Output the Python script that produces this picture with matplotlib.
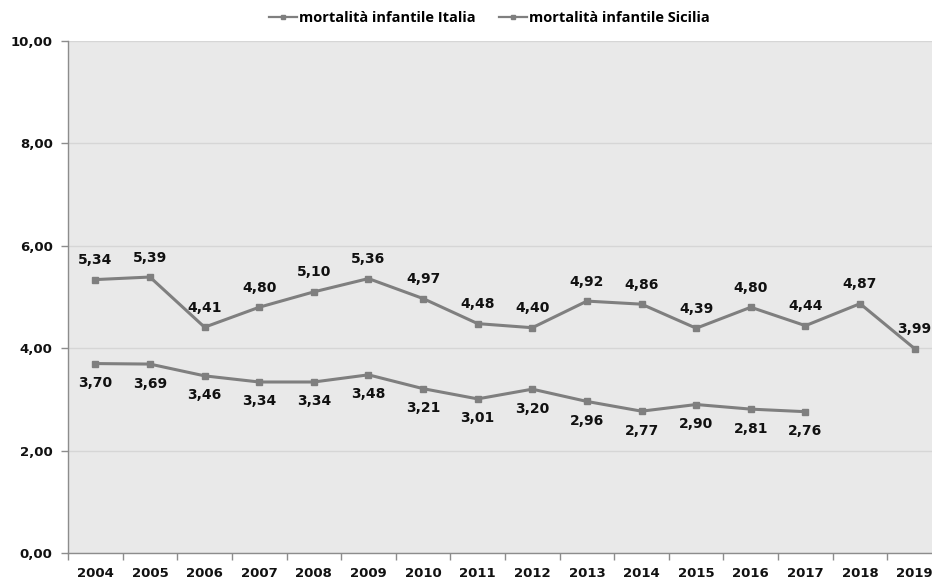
import matplotlib
matplotlib.use("Agg")
import matplotlib.pyplot as plt
from matplotlib.ticker import FixedLocator, FuncFormatter
from matplotlib.lines import Line2D

years = ["2004", "2005", "2006", "2007", "2008", "2009", "2010", "2011",
         "2012", "2013", "2014", "2015", "2016", "2017", "2018", "2019"]
italia = [3.70, 3.69, 3.46, 3.34, 3.34, 3.48, 3.21, 3.01, 3.20, 2.96, 2.77,
          2.90, 2.81, 2.76]
sicilia = [5.34, 5.39, 4.41, 4.80, 5.10, 5.36, 4.97, 4.48, 4.40, 4.92, 4.86,
           4.39, 4.80, 4.44, 4.87, 3.99]
series_names = ["mortalità infantile Italia", "mortalità infantile Sicilia"]
y_ticks = [0, 2, 4, 6, 8, 10]

def fmt(v):
    return f"{v:.2f}".replace(".", ",")

W, H = 932, 583
fig = plt.figure(figsize=(W / 100, H / 100), dpi=100)
fig.patch.set_facecolor("white")
left, right, top, bottom = 68, 942, 41, 553
ax = fig.add_axes([left / W, 1 - bottom / H, (right - left) / W, (bottom - top) / H])
ax.set_facecolor("#e9e9e9")

line_color = "#7f7f7f"
x_it = list(range(len(italia)))
x_si = list(range(len(sicilia)))
ax.plot(x_it, italia, color=line_color, lw=2.2, marker="s", ms=4, zorder=3)
ax.plot(x_si, sicilia, color=line_color, lw=2.2, marker="s", ms=4, zorder=3)

for x, v in zip(x_si, sicilia):
    ax.annotate(fmt(v), (x, v), xytext=(0, 9), textcoords="offset points",
                ha="center", va="bottom", fontsize=10, fontweight="bold",
                color="#111111", annotation_clip=False)
for x, v in zip(x_it, italia):
    ax.annotate(fmt(v), (x, v), xytext=(0, -9), textcoords="offset points",
                ha="center", va="top", fontsize=10, fontweight="bold",
                color="#111111", annotation_clip=False)

ax.set_ylim(0, 10)
ax.set_xlim(-0.5, len(years) - 0.5)
ax.set_yticks(y_ticks)
ax.yaxis.set_major_formatter(FuncFormatter(lambda v, p: fmt(v)))
ax.set_xticks(range(len(years)))
ax.set_xticklabels(years)
ax.xaxis.set_minor_locator(FixedLocator([i - 0.5 for i in range(len(years) + 1)]))
ax.tick_params(axis="x", which="major", length=0, pad=10, labelsize=9.5)
ax.tick_params(axis="x", which="minor", length=5, color="#8c8c8c", width=1)
ax.tick_params(axis="y", length=5, color="#8c8c8c", width=1, pad=6, labelsize=9.5)
for lab in ax.get_xticklabels() + ax.get_yticklabels():
    lab.set_fontweight("bold")
    lab.set_color("#111111")

ax.grid(axis="y", color="#d6d6d6", lw=1)
ax.set_axisbelow(True)
for s in ["top", "right"]:
    ax.spines[s].set_visible(False)
for s in ["left", "bottom"]:
    ax.spines[s].set_color("#8c8c8c")
    ax.spines[s].set_linewidth(1)

handles = [Line2D([], [], color=line_color, lw=1.6, marker="s", ms=3)
           for _ in series_names]
fig.legend(handles, series_names, loc="center", bbox_to_anchor=(0.525, 1 - 18 / H),
           ncol=2, frameon=False, handlelength=1.9, handletextpad=0.15,
           columnspacing=1.6,
           prop={"family": "Open Sans", "weight": "bold", "size": 10.5})

fig.savefig("out.png", dpi=100)
